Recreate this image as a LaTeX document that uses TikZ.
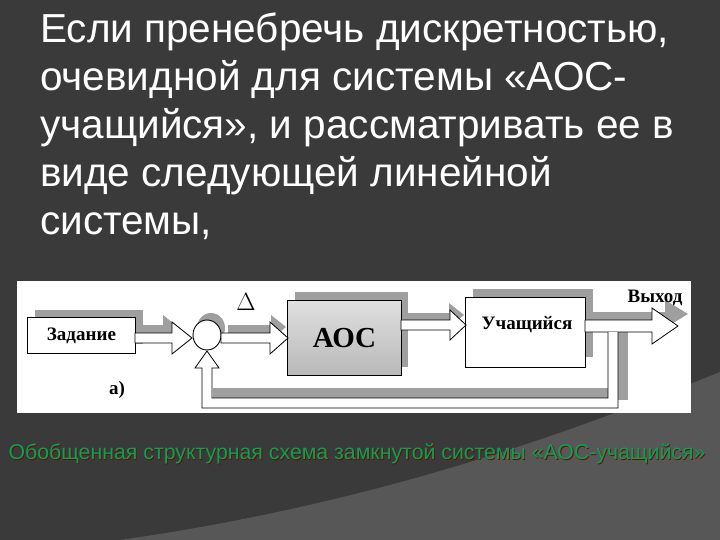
\documentclass[tikz,border=0pt]{standalone}
\usepackage{fontspec}
\usetikzlibrary{shapes.geometric}
\setmainfont{Liberation Sans}
\newfontfamily\serifb{Liberation Serif}
\definecolor{bgdark}{HTML}{3A3A3A}
\definecolor{bglight}{HTML}{575757}
\definecolor{capgreen}{HTML}{00A651}
\begin{document}
\begin{tikzpicture}[x=1pt,y=-1pt,
  shad/.style={fill=gray!75,draw=none},
  harrow/.style={fill=white,draw=black,line width=0.8pt,line join=miter},
  blk/.style={draw=black,line width=0.9pt,fill=white},
  lbl/.style={font=\serifb\bfseries\fontsize{19}{21}\selectfont}]
\useasboundingbox (0,0) rectangle (720,540);
\fill[bgdark] (0,0) rectangle (720,540);
\fill[bglight] (120,540) .. controls (400,500) and (600,420) .. (720,372) -- (720,540) -- cycle;
% title
\node[anchor=north west,align=left,text=white,font=\fontsize{40.5}{48}\selectfont,inner sep=0pt] (title) at (40,13)
{Если пренебречь дискретностью,\\очевидной для системы «АОС-\\учащийся», и рассматривать ее в\\виде следующей линейной\\системы,};
% diagram panel
\node[fill=white,draw=none,minimum width=674pt,minimum height=132pt,inner sep=0pt,anchor=north west] (panel) at (17,281) {};
% shadows
\fill[shad] (35,310) rectangle (143,344);
\fill[shad] (295,292) rectangle (408,367);
\fill[shad] (473,289) rectangle (593,357);
\fill[shad] (211,328) ellipse (14 and 15);
\fill[shad] (618,330) rectangle (628,400);
\fill[shad] (213,388) rectangle (628,398);
\fill[shad] (141,325) -- (163,325) -- (163,315) -- (178,327) -- (163,339) -- (163,335) -- (141,335) -- cycle;
\fill[shad] (228,325) -- (271,325) -- (271,315) -- (286,327) -- (271,339) -- (271,335) -- (228,335) -- cycle;
\fill[shad] (406,313) -- (449,313) -- (449,303) -- (464,315) -- (449,327) -- (449,323) -- (406,323) -- cycle;
\fill[shad] (592,312) -- (665,312) -- (665,300) -- (688,314) -- (665,328) -- (665,322) -- (592,322) -- cycle;
% blocks
\node[blk,minimum width=108pt,minimum height=36pt,inner sep=0pt,anchor=north west] (zad) at (27,317) {};
\node[lbl] (zadt) at (zad) {Задание};
\node[draw=black,line width=0.9pt,minimum width=114pt,minimum height=75pt,inner sep=0pt,anchor=north west,
  top color=gray!25,bottom color=gray!55] (aoc) at (287,300) {};
\node[font=\serifb\bfseries\fontsize{29}{31}\selectfont] (aoct) at (aoc) {АОС};
\node[blk,minimum width=120pt,minimum height=70pt,inner sep=0pt,anchor=north west] (uch) at (465,297) {};
\node[lbl,anchor=north] (ucht) at (527,313) {Учащийся};
\node[blk,ellipse,minimum width=28pt,minimum height=30pt,inner sep=0pt] (sum) at (207,335) {};
% arrows
\draw[harrow] (135,333) -- (172,333) -- (172,322) -- (192,338) -- (172,354) -- (172,343) -- (135,343) -- cycle;
\draw[harrow] (221,333) -- (270,333) -- (270,322) -- (288,338) -- (270,354) -- (270,343) -- (221,343) -- cycle;
\draw[harrow] (401,320) -- (450,320) -- (450,310) -- (466,325) -- (450,340) -- (450,330) -- (401,330) -- cycle;
\draw[harrow] (585,320) -- (652,320) -- (652,308) -- (678,326) -- (652,344) -- (652,332) -- (585,332) -- cycle;
% feedback
\draw[harrow] (618,332) -- (618,408) -- (202,408) -- (202,368) -- (195,368) -- (207,351) -- (219,368) -- (212,368) -- (212,398) -- (608,398) -- (608,332);
% labels
\node[lbl] (out) at (655,298) {Выход};
\node[font=\serifb\fontsize{26}{28}\selectfont] (delta) at (246,302) {$\Delta$};
\node[lbl] (a) at (117,390) {а)};
% caption
\node[text=red!50!black,font=\fontsize{21.3}{23}\selectfont] (caps) at (357.8,454.8) {Обобщенная структурная схема замкнутой системы «АОС-учащийся»};
\node[text=capgreen,font=\fontsize{21.3}{23}\selectfont] (cap) at (357,454) {Обобщенная структурная схема замкнутой системы «АОС-учащийся»};
\end{tikzpicture}
\end{document}
